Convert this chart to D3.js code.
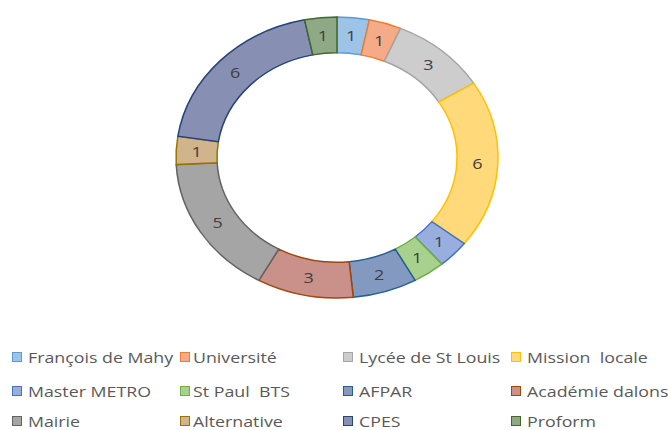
<!DOCTYPE html>
<html>
<head>
<meta charset="utf-8">
<script src="https://cdn.jsdelivr.net/npm/d3@7"></script>
<style>
  body { margin: 0; background: #fff; }
  text { font-family: "Open Sans", "Noto Sans", sans-serif; }
</style>
</head>
<body>
<svg id="chart" width="668" height="430"></svg>
<script>
var labels = ["François de Mahy", "Université", "Lycée de St Louis", "Mission  locale",
	"Master METRO", "St Paul  BTS", "AFPAR", "Académie dalons",
	"Mairie", "Alternative", "CPES", "Proform"];
var values = [1, 1, 3, 6, 1, 1, 2, 3, 5, 1, 6, 1];
var fills = ["#9dc3e6", "#f5ab88", "#cdcdcd", "#ffd97a", "#97aede", "#a9d18e",
	"#8499c0", "#c9918a", "#a5a5a5", "#cfb48c", "#8790b2", "#8fa886"];
var strokes = ["#5b9bd5", "#ed7d31", "#a5a5a5", "#ffc000", "#4472c4", "#70ad47",
	"#255e91", "#9e480e", "#636363", "#997300", "#264478", "#43682b"];

var svg = d3.select("#chart"),
	cx = 337, cy = 157.5, rOut = 161, rIn = 120, squash = 0.873,
	stretch = 1.27;

var pie = d3.pie().sort(null).value(function(d) { return d; });
var arc = d3.arc().innerRadius(rIn).outerRadius(rOut);
var slices = pie(values);

// ring, squashed vertically like the picture
svg.append("g")
	.attr("transform", "translate(" + cx + "," + cy + ") scale(1," + squash + ")")
	.selectAll("path")
	.data(slices)
	.enter()
	.append("path")
	.attr("d", arc)
	.attr("fill", function(d, i) { return fills[i]; })
	.attr("stroke", function(d, i) { return strokes[i]; })
	.attr("stroke-width", 1.5)
	.attr("vector-effect", "non-scaling-stroke");

// value labels
svg.append("g")
	.selectAll("text")
	.data(slices)
	.enter()
	.append("text")
	.attr("transform", function(d) {
		var c = arc.centroid(d);
		return "translate(" + (cx + c[0]) + "," + (cy + c[1] * squash) + ") scale(1.2,1)";
	})
	.attr("text-anchor", "middle")
	.attr("dy", "0.35em")
	.attr("font-size", 15)
	.attr("fill", "#404040")
	.text(function(d) { return d.data; });

// legend, 4 columns x 3 rows
var markX = [12, 180, 343, 511], textX = [28, 193, 359, 527], rowY = [358, 392, 422];
var items = svg.append("g").selectAll("g")
	.data(labels)
	.enter()
	.append("g")
	.attr("transform", function(d, i) {
		return "translate(0," + rowY[Math.floor(i / 4)] + ")";
	});
items.append("rect")
	.attr("x", function(d, i) { return markX[i % 4] + 0.5; })
	.attr("y", -5.5)
	.attr("width", 9).attr("height", 9)
	.attr("fill", function(d, i) { return fills[i]; })
	.attr("stroke", function(d, i) { return strokes[i]; });
items.append("text")
	.attr("transform", function(d, i) {
		return "translate(" + textX[i % 4] + ",0) scale(" + stretch + ",1)";
	})
	.attr("dy", "0.35em")
	.attr("font-size", 14)
	.attr("fill", "#595959")
	.style("white-space", "pre")
	.text(function(d) { return d; });
</script>
</body>
</html>
